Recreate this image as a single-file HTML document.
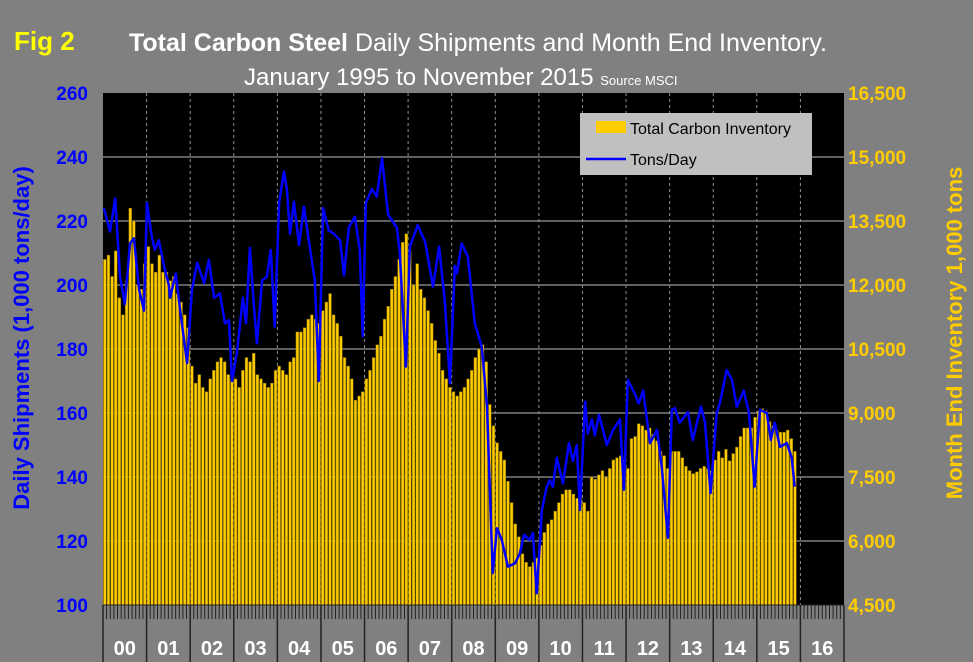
<!DOCTYPE html>
<html><head><meta charset="utf-8">
<style>
body{margin:0;background:#808080;}
svg{display:block;font-family:"Liberation Sans",Arial,sans-serif;}
</style></head>
<body>
<svg id="chart" width="973" height="662" viewBox="0 0 973 662">
<rect x="0" y="0" width="973" height="662" fill="#808080"/>
<text x="14" y="50" font-size="26" font-weight="bold" fill="#ffff00">Fig 2</text>
<text x="478" y="51" text-anchor="middle" font-size="25" fill="#ffffff"><tspan font-weight="bold">Total Carbon Steel</tspan> Daily Shipments and Month End Inventory.</text>
<text x="244" y="85" font-size="24" fill="#ffffff">January 1995 to November 2015 <tspan font-size="13">Source MSCI</tspan></text>
<rect x="103" y="93" width="741" height="512" fill="#000000"/>
<g id="grid"></g>
<g id="bars"></g>
<g id="line"></g>
<g id="axes"></g>
<g>
<rect x="580" y="113" width="232" height="62" fill="#c0c0c0"/>
<rect x="596" y="121" width="30" height="12" fill="#ffcc00"/>
<text x="630" y="134" font-size="16" fill="#000">Total Carbon Inventory</text>
<line x1="586" y1="159" x2="626" y2="159" stroke="#0000ff" stroke-width="2.5"/>
<text x="630" y="165" font-size="16" fill="#000">Tons/Day</text>
</g>
<text transform="translate(29,338) rotate(-90)" text-anchor="middle" font-size="22" font-weight="bold" fill="#0000ff">Daily Shipments (1,000 tons/day)</text>
<text transform="translate(962,333) rotate(-90)" text-anchor="middle" font-size="22" font-weight="bold" fill="#ffcc00">Month End Inventory 1,000 tons</text>
</svg>
<script>
const yearLabels=["00","01","02","03","04","05","06","07","08","09","10","11","12","13","14","15","16"];
const leftTicks=[100,120,140,160,180,200,220,240,260];
const rightTickLabels=["4,500","6,000","7,500","9,000","10,500","12,000","13,500","15,000","16,500"];
const inventory=[
12600,12700,12200,12800,11700,11300,12100,13800,13500,12000,11900,12500,
12900,12500,12300,12700,12300,12300,12100,12200,11800,11600,11300,11000,
10100,9700,9900,9600,9500,9800,10000,10200,10300,10200,9900,9800,
9800,9600,10000,10300,10200,10400,9900,9800,9700,9600,9700,10000,
10100,10000,9900,10200,10300,10900,10900,11000,11200,11300,11200,11100,
11400,11600,11800,11300,11100,10800,10300,10100,9800,9300,9400,9500,
9800,10000,10300,10600,10800,11200,11500,11900,12200,12600,13000,13200,
12800,12000,12500,11900,11700,11400,11100,10700,10400,10000,9800,9600,
9500,9400,9500,9600,9800,10000,10300,10500,10600,10200,9200,8700,
8300,8100,7900,7400,6900,6400,6100,5700,5500,5400,5500,5600,
5900,6200,6400,6500,6700,6900,7100,7200,7200,7100,7000,7000,
6900,6700,7500,7450,7550,7650,7500,7700,7900,7950,8000,7900,
7700,8400,8450,8750,8700,8600,8650,8500,8350,8100,8000,7700,
8100,8100,8100,7950,7750,7650,7580,7620,7700,7750,7700,7650,
7900,8100,7950,8150,7880,8050,8200,8450,8650,8650,8650,8900,
9050,9100,9050,8800,8700,8600,8550,8550,8600,8400,8100];
const shipDates=[0.02,0.16,0.28,0.39,0.50,0.62,0.71,0.83,0.94,1.01,1.12,1.19,1.28,1.40,1.51,1.54,1.67,1.77,1.93,2.04,2.16,2.32,2.43,2.55,2.68,2.80,2.89,2.96,3.07,3.21,3.28,3.37,3.46,3.53,3.65,3.76,3.85,3.94,4.04,4.15,4.22,4.29,4.38,4.50,4.61,4.72,4.86,4.95,5.05,5.18,5.30,5.44,5.53,5.64,5.78,5.89,5.96,6.03,6.17,6.28,6.40,6.54,6.74,6.81,6.95,7.04,7.22,7.39,7.57,7.71,7.84,7.96,8.07,8.12,8.23,8.37,8.53,8.69,8.81,8.94,9.04,9.15,9.29,9.45,9.56,9.66,9.79,9.86,9.95,10.07,10.18,10.25,10.32,10.41,10.55,10.69,10.78,10.87,10.94,11.06,11.12,11.22,11.28,11.38,11.56,11.70,11.86,11.95,12.04,12.20,12.29,12.39,12.55,12.71,12.82,12.96,13.05,13.12,13.23,13.42,13.53,13.72,13.81,13.94,14.08,14.15,14.31,14.43,14.54,14.70,14.82,14.95,15.07,15.23,15.32,15.41,15.53,15.69,15.80,15.87];
const shipValues=[224,216.7,227,202.6,194,213,214.6,198.4,192,225.6,215,211,214,206,200,196,203.6,192,175.6,198.4,207,200.6,207.8,196,197.4,188,189,170,178.6,196,188,211.6,194,181.8,201.5,202.6,211,187,225.6,235.4,229.7,216,226,212.5,224.5,214,201.5,170,224,217,216,214,203,218,221.3,211,184,225.6,230,227.6,239.6,221.9,218,210,174.5,212,218.7,213.5,199.5,212,195.3,169.4,206,203.6,213,208.9,188,180.7,162,110,124,120.3,112,113,116,121.9,120.3,122.5,103.7,129.7,136.9,139,136.9,146,138,150.6,145,150,129.7,163.5,153.6,158,153,159.4,150,154.7,158,136,170.3,166,163,167,150.6,154.7,143,121,161,161.5,157,160.3,151.6,162,157,135,160,163,173.4,170.3,162,167,160,137,161,160,151.6,157,149.4,150.6,146,137];

const NS="http://www.w3.org/2000/svg";
const X0=103,X1=844,Y0=93,Y1=605;
const yearW=(X1-X0)/yearLabels.length;
function xYear(t){return X0+t*yearW;}
function yLeft(v){return Y1-(v-100)/160*(Y1-Y0);}
function yRight(v){return Y1-(v-4500)/12000*(Y1-Y0);}
function mk(tag,attrs,parent){const e=document.createElementNS(NS,tag);for(const k in attrs)e.setAttribute(k,attrs[k]);parent.appendChild(e);return e;}

const grid=document.getElementById('grid');
leftTicks.forEach(v=>{
  if(v===100||v===260)return;
  const l=mk('line',{x1:X0,x2:X1,y1:yLeft(v),y2:yLeft(v),stroke:'#808080','stroke-width':1.5},grid);
  
  
});
for(let i=1;i<yearLabels.length;i++){
  const l=mk('line',{x1:xYear(i),x2:xYear(i),y1:Y0,y2:Y1,stroke:'#909090','stroke-width':1,'stroke-dasharray':'3,3'},grid);
  
  
}

const bars=document.getElementById('bars');
const mW=yearW/12;
inventory.forEach((v,i)=>{
  const x=X0+i*mW+0.4;
  const y=yRight(v);
  const r=mk('rect',{x:x,y:y,width:mW-0.8,height:Y1-y,fill:'#ffcc00',stroke:'#7a6200','stroke-width':0.5},bars);
  
  
});

const lineG=document.getElementById('line');
const pts=shipDates.map((d,i)=>xYear(d).toFixed(1)+','+yLeft(shipValues[i]).toFixed(1)).join(' ');
const pl=mk('polyline',{points:pts,fill:'none',stroke:'#0000ff','stroke-width':2.5,'stroke-linejoin':'round'},lineG);



const axes=document.getElementById('axes');
leftTicks.forEach(v=>{
  const t=mk('text',{x:88,y:yLeft(v)+7,'text-anchor':'end','font-size':19,'font-weight':'bold',fill:'#0000ff'},axes);
  t.textContent=v;
  
  
});
rightTickLabels.forEach((s,i)=>{
  const t=mk('text',{x:848,y:yLeft(leftTicks[i])+7,'font-size':19,'font-weight':'bold',fill:'#ffcc00'},axes);
  t.textContent=s;
  
  
});
for(let m=0;m<=yearLabels.length*12;m++){
  const x=X0+m*mW;
  const tk=mk('line',{x1:x,x2:x,y1:Y1,y2:Y1+14,stroke:'#222','stroke-width':1},axes);
  
  
}
for(let i=0;i<=yearLabels.length;i++){
  const s=mk('line',{x1:xYear(i),x2:xYear(i),y1:Y1,y2:662,stroke:'#222','stroke-width':1.5},axes);
  
  
}
yearLabels.forEach((s,i)=>{
  const t=mk('text',{x:xYear(i+0.5),y:655,'text-anchor':'middle','font-size':20,'font-weight':'bold',fill:'#ffffff'},axes);
  t.textContent=s;
  
  
});
mk('line',{x1:X0,x2:X1,y1:Y1,y2:Y1,stroke:'#222','stroke-width':1},axes);
</script>
</body></html>
